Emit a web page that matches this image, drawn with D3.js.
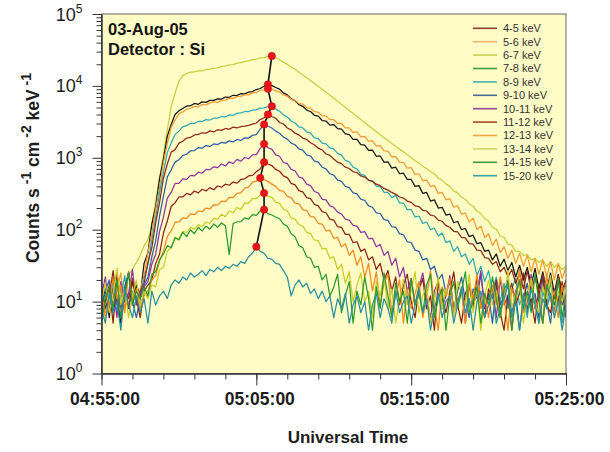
<!DOCTYPE html>
<html>
<head>
<meta charset="utf-8">
<script src="https://cdn.jsdelivr.net/npm/d3@7"></script>
<style>
  body { margin: 0; background: #fff; }
  svg { font-family: Arial, "Liberation Sans", sans-serif; }
</style>
</head>
<body>
<div id="d3-container"></div>
<script>
// energy bands, one count-rate series per band (15 s samples from 04:55:00)
const bands = ["4-5 keV", "5-6 keV", "6-7 keV", "7-8 keV", "8-9 keV", "9-10 keV",
  "10-11 keV", "11-12 keV", "12-13 keV", "13-14 keV", "14-15 keV", "15-20 keV"];

const kev4_5 = [14,9,18,11,22,13,17,24,28,35,
  44,60,72,115,245,530,1080,2450,5100,7900,
  11600,13900,14900,15600,15700,16200,16200,16900,17100,17600,
  17800,18700,18900,19600,19800,20700,21000,21900,22300,23200,
  23500,24500,24800,25800,26000,24600,22900,21400,19800,18300,
  16900,15500,14200,13000,11900,10800,9900,8950,8150,7400,
  6750,6100,5550,5050,4550,4150,3750,3400,3100,2800,
  2550,2300,2100,1900,1740,1580,1440,1320,1210,1100,
  1010,910,850,760,710,640,600,520,490,430,
  400,345,325,282,265,228,212,182,168,142,
  132,108,102,82,78,63,61,50,50,44,
  45,38,40,35,38,31,36,30,33,28,31];
const kev5_6 = [8,15,6,21,10,5,13,26,9,17,
  12,34,48,120,210,510,950,2000,2900,4000,
  4500,4850,5250,5300,5700,5550,6000,5900,6300,6300,
  6600,6550,7000,6950,7400,7350,7800,7750,8200,8350,
  8900,9200,9900,10500,10100,9500,9000,8000,7500,6600,
  6200,5500,5200,4600,4400,3900,3800,3300,3250,2850,
  2900,2550,2500,2150,2100,1800,1800,1520,1500,1270,
  1280,1050,1060,870,880,720,740,600,610,500,
  500,400,410,320,330,250,260,200,205,160,
  165,125,130,100,104,80,84,64,66,50,
  52,38,46,31,39,27,35,22,32,20,
  30,17,29,15,26,14,25,13,24,12,20];
const kev6_7 = [11,7,19,9,14,25,8,12,20,10,
  15,23,48,88,195,390,860,1580,2650,3350,
  4100,4350,4750,4850,5200,5100,5500,5450,5800,6000,
  5900,6300,6350,6700,6700,7100,7150,7500,7500,8000,
  8100,8700,8800,9100,9050,8500,8200,7500,7200,6500,
  6300,5700,5600,5000,4900,4400,4300,3850,3800,3400,
  3400,3000,3000,2600,2600,2250,2300,1950,1980,1700,
  1720,1450,1480,1250,1240,1030,1040,870,860,720,
  730,590,600,480,490,400,410,320,330,260,
  270,205,215,165,170,128,145,100,112,78,
  88,60,74,48,58,40,52,34,47,31,
  44,26,40,24,38,22,36,20,34,21,30];
const kev7_8 = [6,12,9,18,7,11,23,8,14,10,
  13,21,33,72,145,330,630,1180,1600,2100,
  2350,2700,2800,3000,3000,3200,3200,3400,3350,3550,
  3550,3750,3700,3950,3900,4150,4200,4400,4400,4600,
  4650,4900,4950,5150,5200,4750,4450,3950,3700,3250,
  3050,2700,2600,2300,2200,1900,1850,1600,1560,1370,
  1330,1150,1090,920,880,740,700,590,570,480,
  480,400,400,330,330,280,300,235,235,190,
  190,150,155,122,128,100,105,82,90,66,
  70,50,58,42,46,33,40,23,31,19,
  27,14,22,10,18,8,15,21,9,13,
  6,17,11,5,14,9,19,7,12,5,10];
const kev8_9 = [17,8,12,27,10,6,15,11,21,9,
  14,18,35,56,125,240,520,820,1200,1300,
  1600,1700,1880,1920,2080,2120,2230,2200,2370,2290,
  2460,2410,2560,2490,2670,2600,2720,2760,2830,2940,
  3050,3400,3600,4000,3750,3550,3100,2950,2600,2450,
  2200,2080,1880,1800,1620,1520,1360,1290,1130,1080,
  960,870,830,740,710,640,620,560,540,490,
  470,430,410,375,355,330,310,285,275,250,
  240,215,210,185,182,160,155,136,131,114,
  108,95,93,78,77,64,63,52,51,41,
  40,33,36,26,30,22,28,18,25,15,
  27,14,22,12,24,16,21,11,23,15,19];
const kev9_10 = [9,14,20,7,12,8,16,25,10,6,
  11,17,22,42,70,155,290,540,680,870,
  940,1080,1120,1250,1260,1380,1360,1480,1440,1560,
  1530,1640,1600,1720,1660,1800,1740,1900,1880,2050,
  2100,2500,2900,2750,2600,2350,2200,1950,1820,1600,
  1520,1330,1280,1100,1060,900,870,740,700,600,
  575,490,470,400,385,325,315,265,255,215,
  205,172,168,138,135,110,108,88,85,68,
  66,52,50,38,40,28,31,20,24,13,
  19,8,14,22,10,6,15,11,24,8,
  13,5,17,9,12,20,7,14,4,11,
  18,8,13,6,22,10,5,15,9,12,7];
const kev10_11 = [12,22,8,15,6,19,10,13,28,9,
  13,16,19,33,46,95,150,275,330,440,
  440,510,500,570,560,630,610,690,680,750,
  730,820,770,880,830,950,900,1010,970,1100,
  1110,1350,1560,1380,1320,1100,1050,860,830,690,
  660,540,520,430,410,340,325,265,260,215,
  205,175,165,140,136,115,112,92,94,75,
  76,58,62,44,50,32,40,22,30,14,
  21,9,16,25,11,6,14,19,8,12,
  23,7,10,15,5,18,9,13,27,8,
  11,16,6,21,9,12,4,14,19,7,
  10,24,8,13,5,16,11,7,20,9,12];
const kev11_12 = [7,10,16,5,24,9,13,8,19,11,
  6,14,17,20,34,46,90,132,210,236,
  285,285,320,305,345,325,365,345,385,360,
  405,390,430,415,460,445,500,510,560,570,
  640,700,870,820,780,690,650,560,530,440,
  420,350,335,280,270,225,215,178,172,140,
  136,110,108,86,86,66,68,50,54,38,
  42,28,34,20,27,14,22,9,17,24,
  10,6,15,21,8,12,4,18,11,7,
  14,26,9,5,13,17,8,22,10,6,
  15,11,20,7,4,12,18,9,13,25,
  8,11,5,16,21,9,7,14,10,19,6];
const kev12_13 = [13,6,9,21,11,17,7,26,10,15,
  8,12,14,20,23,37,50,80,96,126,
  128,146,144,166,162,182,178,200,194,222,
  220,250,245,282,280,320,325,380,390,460,
  475,525,500,470,430,400,350,345,290,280,
  235,228,190,185,152,150,122,120,96,98,
  76,78,58,64,44,52,32,42,22,34,
  14,26,9,18,24,7,12,20,5,15,
  8,13,19,6,11,27,9,4,16,12,
  21,7,10,14,5,18,11,24,8,13,
  6,17,9,22,12,4,15,10,28,7,
  13,19,8,11,5,24,10,14,6,17,9];
const kev13_14 = [10,18,7,13,29,9,15,6,12,20,
  9,14,11,17,16,28,30,50,56,76,
  76,94,92,108,102,118,110,128,122,144,
  140,164,152,182,172,204,190,236,232,272,
  270,305,323,290,282,240,232,192,182,146,
  140,118,112,92,88,72,70,54,55,40,
  42,28,33,18,26,10,17,25,10,14,
  6,19,12,23,8,15,5,11,20,9,
  14,26,7,12,17,5,10,22,8,15,
  11,6,19,13,9,24,7,16,4,12,
  20,9,14,6,11,27,8,13,18,5,
  12,21,9,7,16,11,23,6,14,10,18];
const kev14_15 = [5,11,16,8,20,6,12,25,9,14,
  11,16,12,24,26,38,46,60,56,78,
  72,92,80,100,88,108,96,112,102,120,
  108,124,114,45,122,128,130,146,140,162,
  158,182,190,166,160,150,142,120,112,88,
  80,60,56,42,40,30,31,20,24,12,
  16,24,7,12,19,5,14,9,22,11,
  4,16,8,25,12,6,18,10,14,5,
  21,9,13,7,17,24,6,11,15,4,
  12,19,8,14,26,7,10,16,5,13,
  9,22,11,6,15,18,4,12,20,8,
  14,7,25,10,5,17,12,9,21,6,13];
const kev15_20 = [8,5,13,7,10,4,15,9,6,12,
  7,11,5,14,9,12,14,11,17,20,
  18,22,20,25,22,24,27,23,28,26,
  30,27,31,29,33,31,36,34,42,47,
  58,50,47,40,39,34,33,27,22,12,
  17,20,16,18,13,15,11,14,10,12,
  6,11,8,13,5,9,12,7,10,4,
  9,13,6,11,8,5,14,7,10,12,
  5,9,15,7,11,4,8,13,6,10,
  12,5,9,16,7,11,4,10,14,6,
  9,13,5,8,11,17,6,10,4,12,
  7,15,9,5,11,8,13,6,10,4,9];

const series = [kev4_5, kev5_6, kev6_7, kev7_8, kev8_9, kev9_10,
  kev10_11, kev11_12, kev12_13, kev13_14, kev14_15, kev15_20];

// trace colours as plotted, and the swatch colours used in the key
const lineColors = ["#c4cf3c", "#141414", "#f39a34", "#2ea9b2", "#8c2a1c", "#2c5ea8",
  "#8f34a2", "#8a2214", "#f0881e", "#c8cc26", "#2a9a2c", "#2a8ea2"];
const legendColors = ["#8e3a2c", "#f5b274", "#c9d356", "#3f9c40", "#45b3b3", "#4c6b92",
  "#8d4c93", "#a34c2c", "#f2a446", "#d2d468", "#3c9c3c", "#3ca3a3"];

const obsDate = "2005-08-03";
const stepSeconds = 15;
const xTickLabels = ["04:55:00", "05:05:00", "05:15:00", "05:25:00"];
const yTickPowers = [0, 1, 2, 3, 4, 5];

const plotLeft = 101.5, plotTop = 14;
const w = 464.5, h = 359.5;

const svg = d3.select("#d3-container")
  .append("svg")
  .attr("width", 610)
  .attr("height", 452);

const parseTime = d3.utcParse("%Y-%m-%d %H:%M:%S");
const xTicks = xTickLabels.map(t => parseTime(obsDate + " " + t));
const t0 = xTicks[0], t1 = xTicks[xTicks.length - 1];
const timeAt = i => new Date(t0.getTime() + i * stepSeconds * 1000);

const xScale = d3.scaleUtc().domain([t0, t1]).range([0, w]);
const yScale = d3.scaleLog().domain([1, 1e5]).range([h, 0]);

const plot = svg.append("g").attr("transform", `translate(${plotLeft},${plotTop})`);

plot.append("rect")
  .attr("width", w)
  .attr("height", h)
  .attr("fill", "#fffcc6");

plot.append("clipPath").attr("id", "clip")
  .append("rect").attr("width", w).attr("height", h);

const line = d3.line()
  .x((d, i) => xScale(timeAt(i)))
  .y(d => yScale(d));

series.forEach((vals, k) => {
  plot.append("path")
    .datum(vals)
    .attr("d", line)
    .attr("fill", "none")
    .attr("stroke", lineColors[k])
    .attr("stroke-width", 1.25)
    .attr("stroke-linejoin", "round")
    .attr("clip-path", "url(#clip)");
});

// peak of every band, joined top to bottom
const peaks = series.map(vals => {
  const i = d3.maxIndex(vals);
  return [timeAt(i), vals[i]];
});

plot.append("path")
  .datum(peaks)
  .attr("d", d3.line().x(d => xScale(d[0])).y(d => yScale(d[1])))
  .attr("fill", "none")
  .attr("stroke", "#111")
  .attr("stroke-width", 1.6);

plot.selectAll(".peak")
  .data(peaks)
  .join("circle")
  .attr("class", "peak")
  .attr("cx", d => xScale(d[0]))
  .attr("cy", d => yScale(d[1]))
  .attr("r", 3.7)
  .attr("fill", "#e8161c")
  .attr("stroke", "#c00")
  .attr("stroke-width", 0.5);

// frame
plot.append("rect")
  .attr("width", w)
  .attr("height", h)
  .attr("fill", "none")
  .attr("stroke", "#666")
  .attr("stroke-width", 1);

// x axis: minor ticks every 2 min, labelled ticks every 10 min
const xMinor = d3.axisBottom(xScale)
  .tickValues(d3.utcMinute.range(t0, new Date(t1.getTime() + 1), 2))
  .tickFormat("")
  .tickSize(6)
  .tickSizeOuter(0);
const xMajor = d3.axisBottom(xScale)
  .tickValues(xTicks)
  .tickFormat(d3.utcFormat("%H:%M:%S"))
  .tickSize(12)
  .tickPadding(7.5)
  .tickSizeOuter(0);

plot.append("g").attr("transform", `translate(0,${h})`).call(xMinor);
const gx = plot.append("g").attr("transform", `translate(0,${h})`).call(xMajor);
gx.selectAll("text")
  .attr("dx", 3)
  .style("font-size", "17.5px")
  .style("font-weight", "bold")
  .style("fill", "#1c1c1c");

// y axis: decades plus 2..9 minor ticks
const yMinorVals = [];
yTickPowers.slice(0, -1).forEach(p => d3.range(2, 10).forEach(m => yMinorVals.push(m * 10 ** p)));

plot.append("g").call(d3.axisLeft(yScale).tickValues(yMinorVals).tickFormat("").tickSize(5).tickSizeOuter(0));
plot.append("g").call(d3.axisLeft(yScale).tickValues(yTickPowers.map(p => 10 ** p)).tickFormat("").tickSize(9).tickSizeOuter(0));

plot.selectAll(".domain, .tick line").attr("stroke", "#333");

const yLab = plot.selectAll(".ylab")
  .data(yTickPowers)
  .join("text")
  .attr("class", "ylab")
  .attr("x", -19)
  .attr("y", p => yScale(10 ** p) + 6.5)
  .attr("text-anchor", "end")
  .style("font-size", "18px")
  .style("fill", "#1c1c1c");
yLab.append("tspan").text("10");
yLab.append("tspan")
  .attr("dy", -8)
  .style("font-size", "12px")
  .text(p => p);

// axis titles
svg.append("text")
  .attr("x", 348)
  .attr("y", 443)
  .attr("text-anchor", "middle")
  .style("font-size", "17px")
  .style("font-weight", "bold")
  .style("fill", "#1c1c1c")
  .text("Universal Time");

const yTitle = svg.append("text")
  .attr("transform", "translate(39,168) rotate(-90)")
  .attr("text-anchor", "middle")
  .style("font-size", "17.5px")
  .style("font-weight", "bold")
  .style("fill", "#1c1c1c");
[["Counts s", 0], [" -1", -8], [" cm", 8], [" -2", -8], [" keV", 8], [" -1", -8]].forEach(([txt, dy], i) => {
  yTitle.append("tspan")
    .attr("dy", dy)
    .style("font-size", i % 2 ? "14px" : "17.5px")
    .text(txt);
});

// date and detector note
svg.append("text")
  .attr("x", 108).attr("y", 35)
  .style("font-size", "16.5px").style("font-weight", "bold").style("fill", "#141414")
  .text("03-Aug-05");
svg.append("text")
  .attr("x", 108).attr("y", 55)
  .style("font-size", "16.5px").style("font-weight", "bold").style("fill", "#141414")
  .text("Detector : Si");

// key
const legend = svg.append("g").attr("transform", "translate(473,28.3)");
const rows = legend.selectAll("g")
  .data(bands)
  .join("g")
  .attr("transform", (d, i) => `translate(0,${i * 13.4})`);
rows.append("line")
  .attr("x1", 0).attr("x2", 24)
  .attr("stroke", (d, i) => legendColors[i])
  .attr("stroke-width", 1.6);
rows.append("text")
  .attr("x", 30)
  .attr("dy", "0.35em")
  .style("font-size", "11px")
  .style("fill", "#333")
  .text(d => d);
</script>
</body>
</html>
